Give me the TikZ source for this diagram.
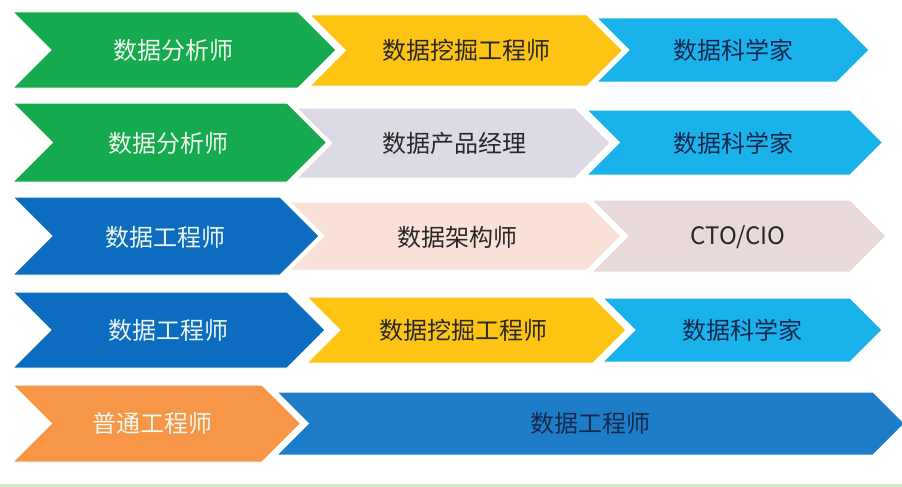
\documentclass[tikz,border=0pt]{standalone}
\usepackage{fontspec}
\newfontfamily\cjk{Noto Sans CJK SC}
\definecolor{cpGreen}{RGB}{22,170,78}
\definecolor{cpYellow}{RGB}{253,196,20}
\definecolor{cpCyan}{RGB}{25,178,235}
\definecolor{cpGray}{RGB}{221,217,229}
\definecolor{cpBlue}{RGB}{12,108,192}
\definecolor{cpPink}{RGB}{250,225,215}
\definecolor{cpMauve}{RGB}{233,217,219}
\definecolor{cpOrange}{RGB}{246,150,70}
\definecolor{cpSteel}{RGB}{30,125,200}
\definecolor{cpLine}{RGB}{213,235,197}
\definecolor{txLight}{RGB}{238,246,238}
\definecolor{txDark}{RGB}{40,40,40}
\definecolor{txNavy}{RGB}{22,40,78}
\tikzset{
    role/.style={font=\cjk\fontsize{24}{26}\selectfont, inner sep=0pt},
    light/.style={role, text=txLight},
    dark/.style={role, text=txDark},
    navy/.style={role, text=txNavy}
}
% chevron: left, right, top, bottom, colour
\newcommand{\chevron}[5]{%
  \pgfmathsetmacro{\chevH}{(#4-#3)/2}%
  \pgfmathsetmacro{\chevM}{(#3+#4)/2}%
  \fill[#5, draw=white, line width=1pt] (#1,#3) -- (#2,#3) -- ({#2+\chevH},\chevM)
    -- (#2,#4) -- (#1,#4) -- ({#1+\chevH},\chevM) -- cycle;}

\begin{document}
\begin{tikzpicture}[x=1pt, y=-1pt]
  \useasboundingbox (0,0) rectangle (902,487);

  % row 1
  \chevron{13}{298}{12}{88}{cpGreen}
  \chevron{310}{587}{15}{86}{cpYellow}
  \chevron{597}{837}{18}{82}{cpCyan}
  \node[light] (ana1) at (173,50) {数据分析师};
  \node[dark] (min1) at (466,50) {数据挖掘工程师};
  \node[navy] (sci1) at (733,50) {数据科学家};

  % row 2
  \chevron{13}{287}{103}{182}{cpGreen}
  \chevron{297}{575}{108}{178}{cpGray}
  \chevron{587}{850}{110}{175}{cpCyan}
  \node[light] (ana2) at (168,143) {数据分析师};
  \node[dark] (pm2) at (454,143) {数据产品经理};
  \node[navy] (sci2) at (733,143) {数据科学家};

  % row 3
  \chevron{13}{280}{197}{275}{cpBlue}
  \chevron{290}{587}{202}{270}{cpPink}
  \chevron{592}{850}{200}{272}{cpMauve}
  \node[light] (eng3) at (165,237) {数据工程师};
  \node[dark] (arc3) at (457,237) {数据架构师};
  \node[dark] (cto3) at (738,237) {CTO/CIO};

  % row 4
  \chevron{13}{287}{292}{368}{cpBlue}
  \chevron{307}{593}{297}{363}{cpYellow}
  \chevron{603}{850}{298}{362}{cpCyan}
  \node[light] (eng4) at (168,330) {数据工程师};
  \node[dark] (min4) at (463,330) {数据挖掘工程师};
  \node[navy] (sci4) at (742,330) {数据科学家};

  % row 5
  \chevron{13}{262}{385}{462}{cpOrange}
  \chevron{277}{873}{392}{455}{cpSteel}
  \node[light] (gen5) at (152,423) {普通工程师};
  \node[navy] (eng5) at (590,423) {数据工程师};

  % bottom rule
  \fill[cpLine] (0,483.5) rectangle (902,487);
\end{tikzpicture}
\end{document}
